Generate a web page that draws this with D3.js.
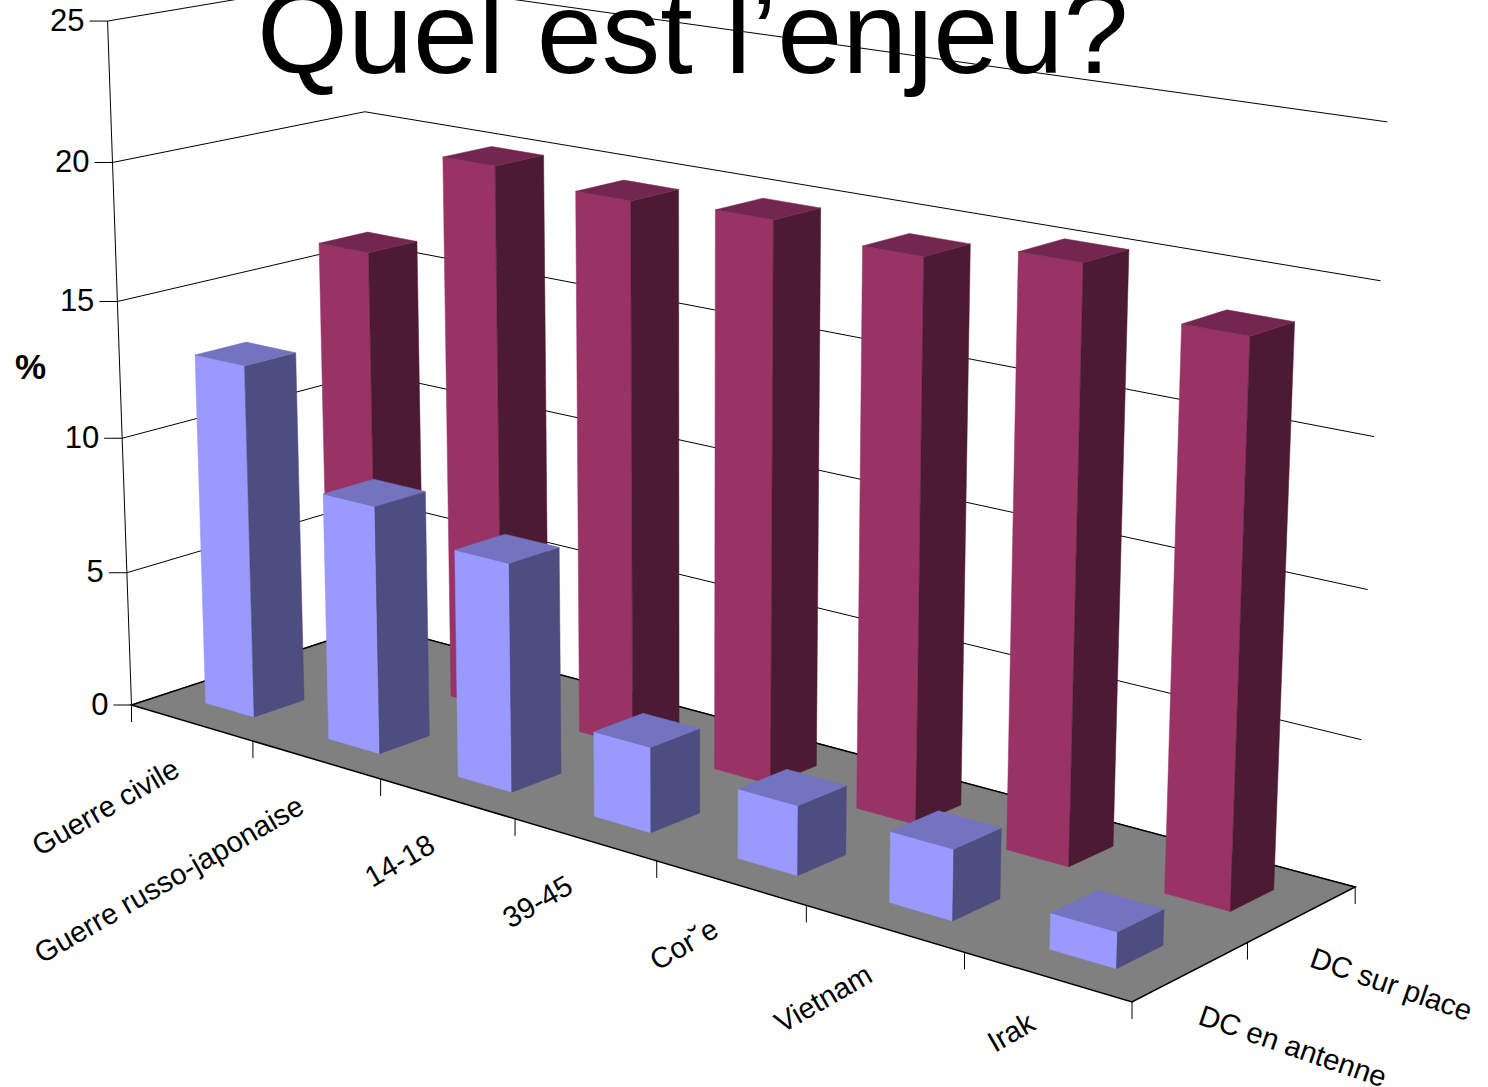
<!DOCTYPE html>
<html>
<head>
<meta charset="utf-8">
<script src="https://cdn.jsdelivr.net/npm/d3@7"></script>
<style>
    body { margin: 0; background: #fff; overflow: hidden; }
    text { font-family: "Liberation Sans", Arial, sans-serif; fill: #000; }
</style>
</head>
<body>
<div id="chart"></div>
<script>
const categories = ["Guerre civile", "Guerre russo-japonaise", "14-18", "39-45", "Cor\u02D8e", "Vietnam", "Irak"];
const seriesNames = ["DC en antenne", "DC sur place"];
const antenne = [13, 9, 8.15, 3, 2.4, 2.4, 1.2];
const surPlace = [16, 20, 19.6, 19.8, 19.45, 20.15, 18.75];
const valueTicks = [0, 5, 10, 15, 20, 25];

const width = 1488;
const height = 1087;

// floor corners on screen, then vanishing point of the verticals
const floor = [[131.5, 705], [1132, 1002], [1355.2, 887], [375, 625.3]];
const vanish = [692, 16713];
const lift = -0.001639;

const [[x0, y0], [x1, y1], [x2, y2], [x3, y3]] = floor;
const sx = x0 - x1 + x2 - x3, sy = y0 - y1 + y2 - y3;
const dx1 = x1 - x2, dx2 = x3 - x2, dy1 = y1 - y2, dy2 = y3 - y2;
const det = dx1 * dy2 - dx2 * dy1;
const g = (sx * dy2 - dx2 * sy) / det;
const h = (dx1 * sy - sx * dy1) / det;

// s along categories, t along depth, both 0..1; v is the value
function project(s, t, v) {
    const w = g * s + h * t + 1 + lift * v;
    const px = (x1 - x0 + g * x1) * s + (x3 - x0 + h * x3) * t + x0 + lift * v * vanish[0];
    const py = (y1 - y0 + g * y1) * s + (y3 - y0 + h * y3) * t + y0 + lift * v * vanish[1];
    return [px / w, py / w];
}

const xBand = d3.scaleBand().domain(categories).range([0, 1]).paddingInner(0.6).paddingOuter(0.3);
const xStep = d3.scaleBand().domain(categories).range([0, 1]);
const zBand = d3.scaleBand().domain(seriesNames).range([0, 1]).paddingInner(0.6).paddingOuter(0.3);
const zStep = d3.scaleBand().domain(seriesNames).range([0, 1]);
const line = d3.line();

const svg = d3.select("#chart")
    .append("svg")
    .attr("width", width)
    .attr("height", height);

// grid lines on left and back walls
valueTicks.forEach(v => {
    svg.append("path")
        .attr("d", line([project(0, 0, v), project(0, 1, v), project(1, 1, v)]))
        .attr("fill", "none")
        .attr("stroke", "#000")
        .attr("stroke-width", 1);
});

// floor
svg.append("path")
    .attr("d", line([project(0, 0, 0), project(1, 0, 0), project(1, 1, 0), project(0, 1, 0)]) + "Z")
    .attr("fill", "#808080")
    .attr("stroke", "#000")
    .attr("stroke-width", 1.5);

// value axis
svg.append("path")
    .attr("d", line([project(0, 0, 0), project(0, 0, 25)]))
    .attr("stroke", "#000")
    .attr("fill", "none");

valueTicks.forEach(v => {
    const [px, py] = project(0, 0, v);
    svg.append("line")
        .attr("x1", px - 18).attr("x2", px)
        .attr("y1", py).attr("y2", py)
        .attr("stroke", "#000");
    svg.append("text")
        .attr("x", px - 23)
        .attr("y", py + 9.5)
        .attr("text-anchor", "end")
        .attr("font-size", 31)
        .text(v);
});

// ticks under the floor
d3.range(categories.length + 1).forEach(i => {
    const [px, py] = project(i / categories.length, 0, 0);
    svg.append("line")
        .attr("x1", px).attr("x2", px)
        .attr("y1", py).attr("y2", py + 17)
        .attr("stroke", "#000");
});
d3.range(1, seriesNames.length + 1).forEach(i => {
    const [px, py] = project(1, i / seriesNames.length, 0);
    svg.append("line")
        .attr("x1", px).attr("x2", px)
        .attr("y1", py).attr("y2", py + 17)
        .attr("stroke", "#000");
});

const palettes = {
    "DC en antenne": { front: "#9999ff", side: "#4d4d80", top: "#7373bf" },
    "DC sur place": { front: "#993366", side: "#4d1a33", top: "#732650" }
};

function drawBar(cat, name, val) {
    const a = xBand(cat), b = a + xBand.bandwidth();
    const c = zBand(name), d = c + zBand.bandwidth();
    const colors = palettes[name];
    const faces = [
        [[[a, c, 0], [b, c, 0], [b, c, val], [a, c, val]], colors.front],
        [[[b, c, 0], [b, d, 0], [b, d, val], [b, c, val]], colors.side],
        [[[a, c, val], [b, c, val], [b, d, val], [a, d, val]], colors.top]
    ];
    faces.forEach(([pts, color]) => {
        svg.append("path")
            .attr("d", line(pts.map(p => project(p[0], p[1], p[2]))) + "Z")
            .attr("fill", color)
            .attr("stroke", color)
            .attr("stroke-width", 0.5);
    });
}

categories.forEach((cat, i) => drawBar(cat, "DC sur place", surPlace[i]));
categories.forEach((cat, i) => drawBar(cat, "DC en antenne", antenne[i]));

// category labels
categories.forEach(cat => {
    const mid = xStep(cat) + xStep.bandwidth() / 2;
    const [px, py] = project(mid, 0, 0);
    svg.append("text")
        .attr("transform", `translate(${px - 10},${py + 52}) rotate(-30)`)
        .attr("text-anchor", "end")
        .attr("font-size", 29.2)
        .text(cat);
});

// depth labels
seriesNames.forEach(name => {
    const mid = zStep(name) + zStep.bandwidth() / 2;
    const [px, py] = project(1, mid, 0);
    svg.append("text")
        .attr("transform", `translate(${px + 6},${py + 52}) rotate(19)`)
        .attr("font-size", 29.2)
        .text(name);
});

svg.append("text")
    .attr("x", 15)
    .attr("y", 379)
    .attr("font-size", 35)
    .attr("font-weight", "bold")
    .text("%");

svg.append("text")
    .attr("x", 257)
    .attr("y", 73)
    .attr("font-size", 117)
    .text("Quel est l\u2019enjeu?");
</script>
</body>
</html>
